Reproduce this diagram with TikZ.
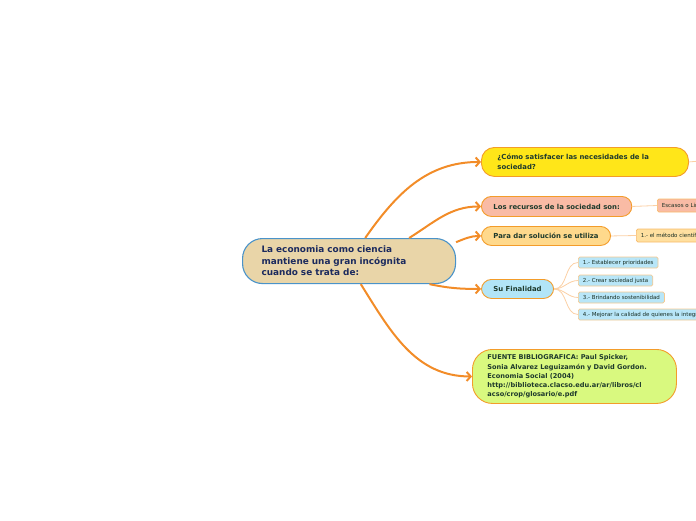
\documentclass[tikz,border=0pt]{standalone}
\usepackage{fontspec}
\setmainfont{DejaVu Sans}
\usetikzlibrary{arrows.meta}
\definecolor{rootfill}{HTML}{E9D5A8}
\definecolor{rootline}{HTML}{4A93C9}
\definecolor{roottext}{HTML}{1B2A5E}
\definecolor{topicline}{HTML}{F39C2A}
\definecolor{topictext}{HTML}{1E3A2C}
\definecolor{branchcol}{HTML}{F28C28}
\definecolor{twigcol}{HTML}{FBD0A4}
\definecolor{leafline}{HTML}{F5C990}
\definecolor{yellowfill}{HTML}{FFE619}
\definecolor{salmonfill}{HTML}{F9BBA5}
\definecolor{peachfill}{HTML}{FFD98C}
\definecolor{bluefill}{HTML}{B2E5F7}
\definecolor{greenfill}{HTML}{D9F97F}
\definecolor{leafpeach}{HTML}{FFE0A0}
\definecolor{leafblue}{HTML}{B8E6F8}

\begin{document}
\begin{tikzpicture}[x=1pt,y=-1pt,>={Straight Barb[length=4pt,width=9pt]},
  root/.style={draw=rootline,fill=rootfill,line width=1.1pt,rounded corners=20pt,
    anchor=north west,inner xsep=19pt,inner ysep=0pt,minimum height=45pt,
    text width=175pt,align=left,text=roottext,
    font=\fontsize{8.9}{11.5}\selectfont\bfseries},
  topic/.style={draw=topicline,line width=0.9pt,rounded corners=10pt,
    anchor=north west,inner xsep=12pt,inner ysep=0pt,align=left,text=topictext,
    font=\fontsize{6.9}{10}\selectfont\bfseries},
  leaf/.style={draw=leafline,line width=0.7pt,rounded corners=1.5pt,anchor=west,
    inner xsep=4.5pt,inner ysep=0pt,minimum height=11pt,text=topictext!80!black,
    font=\fontsize{5.5}{6}\selectfont},
  branch/.style={draw=branchcol,line width=2pt,->},
  twig/.style={draw=twigcol,line width=0.8pt}]
\useasboundingbox (0,0) rectangle (696,520);

% ---------- central idea ----------
\node[root] (root) at (242,238) {La economia como ciencia\\mantiene una gran incógnita\\cuando se trata de:};

% ---------- main topics ----------
\node[topic,fill=yellowfill,inner xsep=16pt,text width=175pt,minimum height=29pt,rounded corners=13pt]
  (q1) at (481,147) {¿Cómo satisfacer las necesidades de la\\sociedad?};
\node[topic,fill=salmonfill,minimum height=20pt] (rec) at (481,196) {Los recursos de la sociedad son:};
\node[topic,fill=peachfill,minimum height=19pt] (sol) at (481,226) {Para dar solución se utiliza};
\node[topic,fill=bluefill,minimum height=19pt] (fin) at (481,279) {Su Finalidad};
\node[topic,fill=greenfill,inner xsep=15pt,text width=174pt,minimum height=54pt,rounded corners=20pt,
  font=\fontsize{6.6}{9.2}\selectfont\bfseries]
  (src) at (472,349) {FUENTE BIBLIOGRAFICA: Paul Spicker,\\Sonia Alvarez Leguizamón y David Gordon.\\Economia Social (2004)\\http://biblioteca.clacso.edu.ar/ar/libros/cl\\acso/crop/glosario/e.pdf};

\draw[branch] (root.55) to[out=55,in=180] (q1.west);
\draw[branch] (root.21) to[out=32,in=180] (rec.west);
\draw[branch] (root.10) to[out=22,in=180] (sol.west);
\draw[branch] (root.-16) to[out=-12,in=180] (fin.west);
\draw[branch] (root.-63) to[out=-58,in=180] (src.west);

% ---------- details ----------
\coordinate (q1out) at (700,161);
\draw[twig] (q1.east) -- (q1out);
\node[leaf,fill=salmonfill,minimum height=13pt,draw=topicline!70] (esc) at (657,205.5) {Escasos o Limitados};
\draw[twig] (rec.east) -- (esc.west);
\node[leaf,fill=leafpeach,minimum height=13pt,draw=topicline!70] (met) at (636,235.5) {1.- el método científico};
\draw[twig] (sol.east) -- (met.west);

\foreach \i/\y/\t in {1/262.5/{1.- Establecer prioridades},2/280.5/{2.- Crear sociedad justa},
  3/297.5/{3.- Brindando sostenibilidad},4/314.5/{4.- Mejorar la calidad de quienes la integran}}{
  \node[leaf,fill=leafblue] (c\i) at (578,\y) {\t};
  \draw[twig] (fin.east) to[out=0,in=180] (c\i.west);
}
\end{tikzpicture}
\end{document}
